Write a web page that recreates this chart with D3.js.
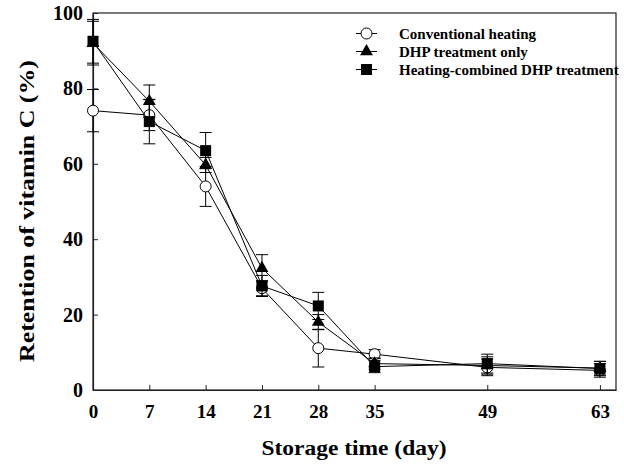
<!DOCTYPE html>
<html>
<head>
<meta charset="utf-8">
<script src="https://cdn.jsdelivr.net/npm/d3@7"></script>
<style>
  body { margin: 0; background: #fff; }
  text { font-family: "Liberation Serif", "Times New Roman", serif; font-weight: bold; fill: #000; }
</style>
</head>
<body>
<div id="chart"></div>
<script>
// Data
const days = [0, 7, 14, 21, 28, 35, 49, 63];
const yTicks = [0, 20, 40, 60, 80, 100];

const conventional = [74.1, 72.9, 54.0, 27.0, 11.1, 9.5, 6.0, 5.2];
const conventionalErr = [5.6, 4.1, 5.3, 2.0, 5.0, 1.2, 2.2, 1.8];

const dhpOnly = [92.0, 76.6, 59.7, 32.3, 18.0, 7.0, 6.5, 5.8];
const dhpOnlyErr = [5.8, 4.3, 2.0, 3.6, 2.0, 1.5, 2.3, 1.8];

const combined = [92.5, 71.2, 63.5, 27.6, 22.3, 6.2, 7.0, 5.7];
const combinedErr = [5.8, 5.9, 4.8, 2.8, 3.6, 1.6, 2.5, 1.9];

const seriesNames = ["Conventional heating", "DHP treatment only", "Heating-combined DHP treatment"];

const width = 624, height = 464;
const margin = { top: 13, right: 8, bottom: 74, left: 93 };

const svg = d3.select("#chart").append("svg")
    .attr("width", width)
    .attr("height", height);

const x = d3.scaleLinear().domain([0, 65]).range([margin.left, width - margin.right]);
const y = d3.scaleLinear().domain([0, 100]).range([height - margin.bottom, margin.top]);

// Frame
svg.append("rect")
    .attr("x", x(0)).attr("y", y(100))
    .attr("width", x(65) - x(0)).attr("height", y(0) - y(100))
    .attr("fill", "none").attr("stroke", "#222").attr("stroke-width", 1.2);

// X axis
const xAxis = svg.append("g")
    .attr("transform", `translate(0,${y(0)})`)
    .call(d3.axisBottom(x).tickValues(days).tickSizeInner(-5).tickSizeOuter(0).tickPadding(15));
xAxis.select(".domain").attr("stroke", "#222").attr("stroke-width", 1.2);
xAxis.selectAll("line").attr("stroke", "#222");
xAxis.selectAll("text").style("font-size", "19px").style("font-family", "Liberation Serif").style("font-weight", "bold");

// Y axis
const yAxis = svg.append("g")
    .attr("transform", `translate(${x(0)},0)`)
    .call(d3.axisLeft(y).tickValues(yTicks).tickSizeInner(-5).tickSizeOuter(0).tickPadding(10));
yAxis.select(".domain").attr("stroke", "#222").attr("stroke-width", 1.2);
yAxis.selectAll("line").attr("stroke", "#222");
yAxis.selectAll("text").style("font-size", "20px").style("font-family", "Liberation Serif").style("font-weight", "bold");

// Axis titles
svg.append("text")
    .attr("x", 354).attr("y", 455)
    .attr("text-anchor", "middle")
    .attr("textLength", 185)
    .attr("lengthAdjust", "spacingAndGlyphs")
    .style("font-size", "21px")
    .text("Storage time (day)");

svg.append("text")
    .attr("transform", "translate(34,211) rotate(-90)")
    .attr("text-anchor", "middle")
    .attr("textLength", 302)
    .attr("lengthAdjust", "spacingAndGlyphs")
    .style("font-size", "22px")
    .text("Retention of vitamin C (%)");

const line = d3.line().x((d, i) => x(days[i])).y(d => y(d));
const capW = 6;

function drawSeries(values, errs, marker) {
    const g = svg.append("g");
    // error bars
    values.forEach((v, i) => {
        const cx = x(days[i]);
        g.append("line").attr("x1", cx).attr("x2", cx)
            .attr("y1", y(v - errs[i])).attr("y2", y(v + errs[i]))
            .attr("stroke", "#000").attr("stroke-width", 1);
        [v - errs[i], v + errs[i]].forEach(e => {
            g.append("line").attr("x1", cx - capW).attr("x2", cx + capW)
                .attr("y1", y(e)).attr("y2", y(e))
                .attr("stroke", "#000").attr("stroke-width", 1);
        });
    });
    g.append("path").datum(values)
        .attr("d", line)
        .attr("fill", "none").attr("stroke", "#000").attr("stroke-width", 1);
    values.forEach((v, i) => drawMarker(g, x(days[i]), y(v), marker));
}

function drawMarker(g, cx, cy, marker) {
    if (marker === "circle") {
        g.append("circle").attr("cx", cx).attr("cy", cy).attr("r", 5.5)
            .attr("fill", "#fff").attr("stroke", "#000").attr("stroke-width", 1);
    } else if (marker === "triangle") {
        g.append("path")
            .attr("d", d3.symbol().type(d3.symbolTriangle).size(72)())
            .attr("transform", `translate(${cx},${cy})`)
            .attr("fill", "#000");
    } else {
        g.append("rect").attr("x", cx - 5.5).attr("y", cy - 5.5)
            .attr("width", 11).attr("height", 11).attr("fill", "#000");
    }
}

drawSeries(conventional, conventionalErr, "circle");
drawSeries(dhpOnly, dhpOnlyErr, "triangle");
drawSeries(combined, combinedErr, "square");

// Legend
const markers = ["circle", "triangle", "square"];
const legend = svg.append("g");
seriesNames.forEach((name, i) => {
    const ly = 33.5 + i * 18;
    legend.append("line").attr("x1", 356).attr("x2", 377)
        .attr("y1", ly).attr("y2", ly)
        .attr("stroke", "#000").attr("stroke-width", 1);
    drawMarker(legend, 366.5, ly, markers[i]);
    legend.append("text")
        .attr("x", 399).attr("y", ly + 5)
        .style("font-size", "15px")
        .text(name);
});
</script>
</body>
</html>
